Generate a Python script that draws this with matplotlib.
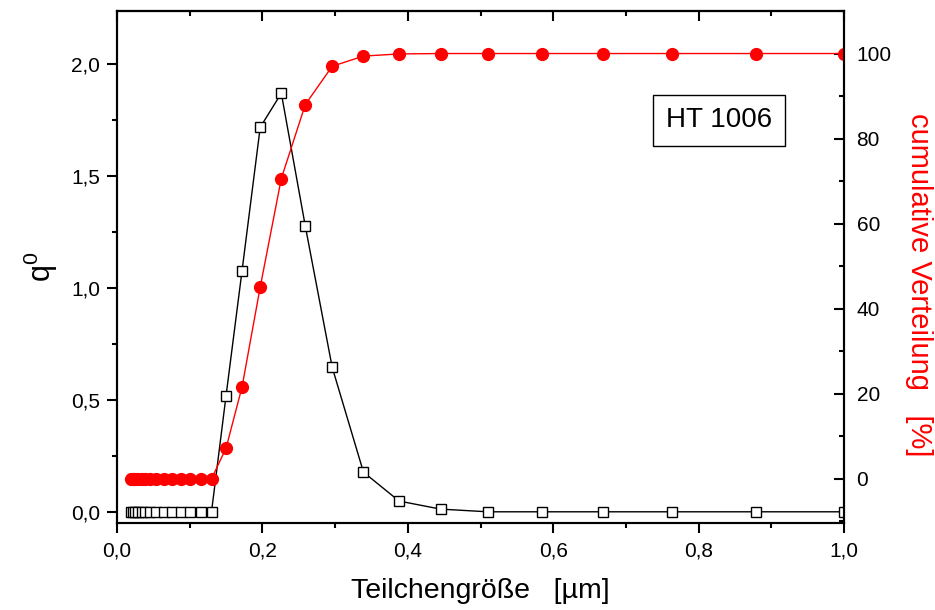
import matplotlib
matplotlib.use('Agg')
import matplotlib.pyplot as plt
from matplotlib.ticker import MultipleLocator, FuncFormatter

plt.rcParams['font.family'] = ['Liberation Sans', 'DejaVu Sans']

# Teilchengröße [µm]
size = [0.019, 0.022, 0.025, 0.029, 0.034, 0.039, 0.046, 0.054, 0.064, 0.075,
        0.088, 0.101, 0.116, 0.130, 0.150, 0.172, 0.197, 0.226, 0.259, 0.296,
        0.339, 0.388, 0.445, 0.510, 0.584, 0.669, 0.763, 0.879, 1.0]
# q0 density
q0 = [0, 0, 0, 0, 0, 0, 0, 0, 0, 0,
      0, 0, 0, 0, 0.518, 1.076, 1.716, 1.868, 1.275, 0.645,
      0.177, 0.048, 0.012, 0, 0, 0, 0, 0, 0]
# cumulative distribution [%]
cum = [0, 0, 0, 0, 0, 0, 0, 0, 0, 0,
       0, 0, 0, 0, 7.2, 21.6, 45.1, 70.6, 88.0, 97.0,
       99.4, 99.9, 100, 100, 100, 100, 100, 100, 100]

xticks = [0.0, 0.2, 0.4, 0.6, 0.8, 1.0]
yticks_left = [0.0, 0.5, 1.0, 1.5, 2.0]
yticks_right = [0, 20, 40, 60, 80, 100]


def comma(v, pos):
    return f"{v:.1f}".replace('.', ',')


fig = plt.figure(figsize=(9.35, 6.1), dpi=100)
ax = fig.add_axes([117 / 935, 1 - 523 / 610, 727 / 935, 512 / 610])

ax.plot(size, q0, color='black', lw=1.0, marker='s', ms=7,
        mfc='white', mec='black', mew=1.0)
ax.set_xlim(0, 1.0)
ax.set_ylim(-0.05, 2.235)

ax.set_xticks(xticks)
ax.set_yticks(yticks_left)
ax.xaxis.set_minor_locator(MultipleLocator(0.1))
ax.yaxis.set_minor_locator(MultipleLocator(0.25))
ax.xaxis.set_major_formatter(FuncFormatter(comma))
ax.yaxis.set_major_formatter(FuncFormatter(comma))
ax.tick_params(which='both', direction='out', width=1.5, labelsize=15)
ax.tick_params(which='major', length=7)
ax.tick_params(which='minor', length=3.6)
ax.tick_params(axis='x', pad=6)
ax.tick_params(axis='y', pad=5)
for s in ax.spines.values():
    s.set_linewidth(1.5)

# top axis with inward ticks, no labels
top = ax.secondary_xaxis('top')
top.set_xticks(xticks)
top.xaxis.set_minor_locator(MultipleLocator(0.1))
top.tick_params(which='both', direction='in', width=1.5, labeltop=False)
top.tick_params(which='major', length=7)
top.tick_params(which='minor', length=3.6)
top.spines['top'].set_linewidth(1.5)

ax.set_xlabel('Teilchengröße   [µm]', fontsize=20.5, labelpad=13)
ax.set_ylabel(r'q$^{\mathregular{0}}$', fontsize=22)
ax.yaxis.set_label_coords(-0.078, 0.5)

ax2 = ax.twinx()
ax2.plot(size, cum, color='red', lw=1.0, marker='o', ms=8.5,
         mfc='red', mec='red')
ax2.set_ylim(-10.4, 110.0)
ax2.set_yticks(yticks_right)
ax2.yaxis.set_minor_locator(MultipleLocator(10))
ax2.tick_params(which='both', direction='in', width=1.5, labelsize=15, pad=9)
ax2.tick_params(which='major', length=7)
ax2.tick_params(which='minor', length=3.6)
for s in ax2.spines.values():
    s.set_linewidth(1.5)
ax2.set_ylabel('cumulative Verteilung   [%]', fontsize=21, color='red',
               rotation=-90)
ax2.yaxis.set_label_coords(1.122, 0.465)

ax.text(0.828, 0.787, 'HT 1006', transform=ax.transAxes, fontsize=20,
        ha='center', va='center', zorder=10,
        bbox=dict(boxstyle='square,pad=0.45', fc='white', ec='black', lw=1.0))

fig.savefig('out.png', dpi=100)
